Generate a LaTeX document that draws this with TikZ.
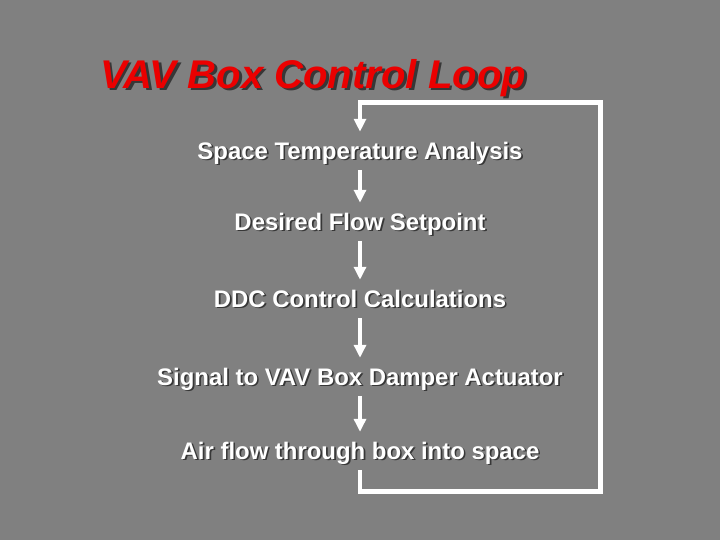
\documentclass[tikz,border=0pt]{standalone}
\usepackage{fontspec}
\setmainfont{Liberation Sans}
\usetikzlibrary{arrows.meta}
\definecolor{slideGray}{RGB}{128,128,128}
\definecolor{titleRed}{RGB}{235,0,0}
\definecolor{shadowGray}{RGB}{55,55,55}
% text with a small drop shadow
\newcommand{\shadowed}[2]{\makebox[0pt][l]{\hspace{#1}\raisebox{-#1}{\color{shadowGray}#2}}#2}
\tikzset{
    objTitle/.style={text=titleRed, font=\fontsize{28.5}{33}\selectfont\bfseries\itshape, inner sep=0pt, anchor=base},
    objLabel/.style={text=white, font=\fontsize{17}{20}\selectfont\bfseries, text height=0.525cm, text depth=0.125cm, inner xsep=0pt, inner ysep=0.15cm},
    arrow/.style={white, line width=3.4pt, -{Triangle[width=8.5pt,length=9.2pt]}},
    loopLine/.style={white, line width=3.4pt, line join=miter}
}
\begin{document}
\begin{tikzpicture}[x=0.025cm, y=-0.025cm, node distance=1.875cm]
    \fill[slideGray] (0,0) rectangle (720,540);
    \useasboundingbox (0,0) rectangle (720,540);

    \node (title) [objTitle] at (313,88) {\shadowed{2pt}{VAV Box Control Loop}};

    \node (s1) [objLabel, anchor=base] at (360,159) {\shadowed{1.2pt}{Space Temperature Analysis}};
    \node (s2) [objLabel, below of=s1, yshift=0.1cm] {\shadowed{1.2pt}{Desired Flow Setpoint}};
    \node (s3) [objLabel, below of=s2, yshift=-0.05cm] {\shadowed{1.2pt}{DDC Control Calculations}};
    \node (s4) [objLabel, below of=s3, yshift=-0.075cm] {\shadowed{1.2pt}{Signal to VAV Box Damper Actuator}};
    \node (s5) [objLabel, below of=s4, yshift=0.025cm] {\shadowed{1.2pt}{Air flow through box into space}};

    \coordinate (loopBR) at (600.5,491.5);
    \coordinate (loopTR) at (600.5,102.5);

    \draw[arrow] (s1) -- (s2);
    \draw[arrow] (s2) -- (s3);
    \draw[arrow] (s3) -- (s4);
    \draw[arrow] (s4) -- (s5);

    \draw[loopLine, arrow] (s5.south) |- (loopBR) -- (loopTR) -| (s1.north);

\end{tikzpicture}
\end{document}
